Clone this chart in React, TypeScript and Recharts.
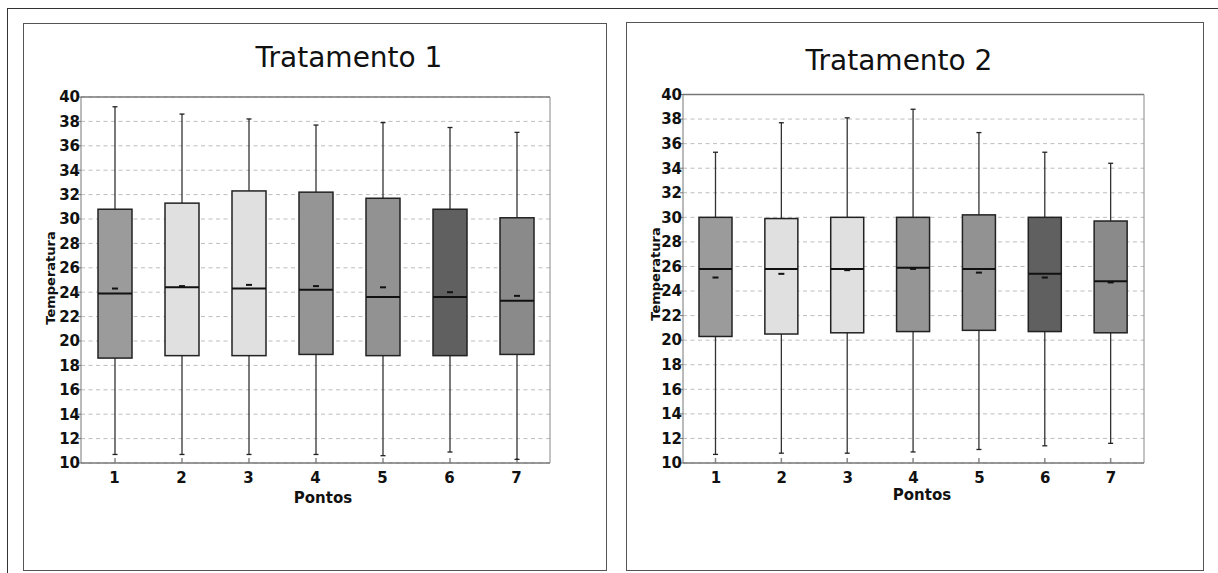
import { ComposedChart, Bar, XAxis, YAxis, CartesianGrid, ReferenceLine } from 'recharts'

const pontos = ['1', '2', '3', '4', '5', '6', '7']
const yTicks = [10, 12, 14, 16, 18, 20, 22, 24, 26, 28, 30, 32, 34, 36, 38, 40]
const boxColors = ['#9b9b9b', '#e0e0e0', '#e0e0e0', '#959595', '#929292', '#606060', '#8a8a8a']

// Tratamento 1
const t1Max = [39.2, 38.6, 38.2, 37.7, 37.9, 37.5, 37.1]
const t1Q3 = [30.8, 31.3, 32.3, 32.2, 31.7, 30.8, 30.1]
const t1Median = [23.9, 24.4, 24.3, 24.2, 23.6, 23.6, 23.3]
const t1Mean = [24.3, 24.5, 24.6, 24.5, 24.4, 24.0, 23.7]
const t1Q1 = [18.6, 18.8, 18.8, 18.9, 18.8, 18.8, 18.9]
const t1Min = [10.7, 10.7, 10.7, 10.7, 10.6, 10.9, 10.3]

// Tratamento 2
const t2Max = [35.3, 37.7, 38.1, 38.8, 36.9, 35.3, 34.4]
const t2Q3 = [30.0, 29.9, 30.0, 30.0, 30.2, 30.0, 29.7]
const t2Median = [25.8, 25.8, 25.8, 25.9, 25.8, 25.4, 24.8]
const t2Mean = [25.1, 25.4, 25.7, 25.8, 25.5, 25.1, 24.7]
const t2Q1 = [20.3, 20.5, 20.6, 20.7, 20.8, 20.7, 20.6]
const t2Min = [10.7, 10.8, 10.8, 10.9, 11.1, 11.4, 11.6]

const buildRows = (min: number[], q1: number[], median: number[], mean: number[], q3: number[], max: number[]) =>
  pontos.map((p, i) => ({
    ponto: p,
    range: [min[i], max[i]],
    min: min[i],
    q1: q1[i],
    median: median[i],
    mean: mean[i],
    q3: q3[i],
    max: max[i],
    color: boxColors[i],
  }))

const data1 = buildRows(t1Min, t1Q1, t1Median, t1Mean, t1Q3, t1Max)
const data2 = buildRows(t2Min, t2Q1, t2Median, t2Mean, t2Q3, t2Max)

const FONT = '"DejaVu Sans", sans-serif'

function BoxShape(props: any) {
  const { x, y, width, height, payload } = props
  if (!payload) return null
  const top = Math.min(y, y + height)
  const bottom = Math.max(y, y + height)
  const span = payload.max - payload.min
  // value -> pixel, derived from the bar the library already placed
  const pix = (v: number) => bottom - ((v - payload.min) / span) * (bottom - top)
  const cx = x + width / 2
  const axisY = pix(10)
  return (
    <g>
      <line x1={cx} x2={cx} y1={axisY} y2={axisY - 5} stroke="#888" strokeWidth={1.5} />
      <line x1={cx} x2={cx} y1={pix(payload.max)} y2={pix(payload.min)} stroke="#333" strokeWidth={1.3} />
      <line x1={cx - 2.5} x2={cx + 2.5} y1={pix(payload.max)} y2={pix(payload.max)} stroke="#222" strokeWidth={1.3} />
      <line x1={cx - 2.5} x2={cx + 2.5} y1={pix(payload.min)} y2={pix(payload.min)} stroke="#222" strokeWidth={1.3} />
      <rect
        x={x}
        y={pix(payload.q3)}
        width={width}
        height={pix(payload.q1) - pix(payload.q3)}
        fill={payload.color}
        stroke="#222"
        strokeWidth={1.5}
      />
      <line x1={x} x2={x + width} y1={pix(payload.median)} y2={pix(payload.median)} stroke="#111" strokeWidth={2} />
      <line x1={cx - 3} x2={cx + 3} y1={pix(payload.mean)} y2={pix(payload.mean)} stroke="#111" strokeWidth={2} />
    </g>
  )
}

interface PanelProps {
  data: ReturnType<typeof buildRows>
  width: number
  margin: { top: number; right: number; left: number; bottom: number }
  yWidth: number
  barSize: number
}

function BoxPanel({ data, width, margin, yWidth, barSize }: PanelProps) {
  return (
    <ComposedChart width={width} height={573} data={data} margin={margin}>
      <CartesianGrid vertical={false} stroke="#bdbdbd" strokeDasharray="4 3.5" />
      <XAxis
        dataKey="ponto"
        height={110}
        stroke="#777"
        strokeWidth={1.5}
        tickLine={false}
        tickSize={4}
        tickMargin={5}
        tick={{ fill: '#111', fontSize: 15, fontWeight: 'bold', fontFamily: FONT }}
      />
      <YAxis
        domain={[10, 40]}
        ticks={yTicks}
        interval={0}
        width={yWidth}
        stroke="#777"
        tickSize={3}
        tickMargin={0}
        tick={{ fill: '#111', fontSize: 15, fontWeight: 'bold', fontFamily: FONT, dx: 2 }}
      />
      <YAxis
        yAxisId="r"
        orientation="right"
        mirror
        domain={[10, 40]}
        ticks={yTicks}
        interval={0}
        tick={false}
        tickSize={7}
        stroke="#888"
        tickLine={{ stroke: '#999', strokeWidth: 2 }}
      />
      <ReferenceLine y={40} stroke="#777" strokeWidth={1.5} />
      <Bar dataKey="range" barSize={barSize} shape={BoxShape} isAnimationActive={false} />
    </ComposedChart>
  )
}

const textBase = { position: 'absolute' as const, fontFamily: FONT, color: '#111', whiteSpace: 'nowrap' as const }

function Centered({ x, y, size, bold, rotate, children }: any) {
  return (
    <div
      style={{
        ...textBase,
        left: x,
        top: y,
        fontSize: size,
        fontWeight: bold ? 'bold' : 'normal',
        lineHeight: 1,
        transform: `translate(-50%, -50%)${rotate ? ' rotate(-90deg)' : ''}`,
      }}
    >
      {children}
    </div>
  )
}

export default function App() {
  return (
    <div style={{ position: 'absolute', left: 0, top: 0, width: 1218, height: 573, background: '#fff', overflow: 'hidden' }}>
      {/* outer frame */}
      <div style={{ position: 'absolute', left: 7, top: 8, width: 1211, height: 0, borderTop: '1.5px solid #333' }} />
      <div style={{ position: 'absolute', left: 7, top: 8, width: 0, height: 565, borderLeft: '1.5px solid #333' }} />
      {/* panel borders */}
      <div style={{ position: 'absolute', left: 23, top: 23, width: 584, height: 548, border: '1.5px solid #555', boxSizing: 'border-box' }} />
      <div style={{ position: 'absolute', left: 626, top: 22, width: 578, height: 549, border: '1.5px solid #555', boxSizing: 'border-box' }} />

      <div style={{ position: 'absolute', left: 0, top: 0 }}>
        <BoxPanel data={data1} width={610} margin={{ top: 97, right: 60, left: 0, bottom: 0 }} yWidth={81} barSize={34} />
      </div>
      <div style={{ position: 'absolute', left: 610, top: 0 }}>
        <BoxPanel data={data2} width={608} margin={{ top: 94.5, right: 74, left: 0, bottom: 0 }} yWidth={73} barSize={33} />
      </div>

      <Centered x={349} y={58} size={28}>Tratamento 1</Centered>
      <Centered x={323} y={498} size={15} bold>Pontos</Centered>
      <Centered x={50} y={278} size={13} bold rotate>Temperatura</Centered>

      <Centered x={899} y={61} size={28}>Tratamento 2</Centered>
      <Centered x={922} y={495} size={15} bold>Pontos</Centered>
      <Centered x={655} y={274} size={13} bold rotate>Temperatura</Centered>
    </div>
  )
}
